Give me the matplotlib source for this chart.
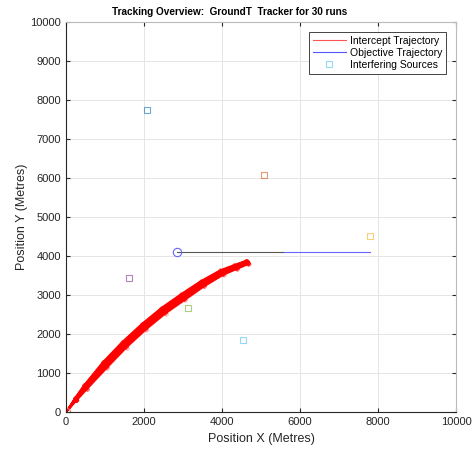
import matplotlib
matplotlib.use("Agg")
import matplotlib.pyplot as plt
from matplotlib.lines import Line2D

plt.rcParams["font.family"] = ["Liberation Sans", "DejaVu Sans"]

# mean intercept path (metres)
path_x = [0, 250, 500, 1000, 1500, 2000, 2500, 3000, 3500, 4000, 4350, 4650]
path_y = [0, 330, 640, 1210, 1730, 2190, 2600, 2950, 3290, 3580, 3720, 3840]
# how far runs stray from the mean path at each point
path_taper = [0, 0.4, 0.7, 1.0, 1.0, 1.0, 1.0, 1.0, 0.9, 0.8, 0.7, 0.6]

# per-run sideways wobble of the 30 runs (metres)
run_spread = [-90, -75, -60, -55, -45, -40, -30, -25, -20, -15,
              -10, -5, 0, 5, 10, 15, 20, 25, 30, 35,
              40, 45, 50, 55, 60, 65, 70, 80, 85, 95]

# objective track
obj_start = (2850, 4100)
obj_black_x = [2850, 5600]
obj_blue_x = [5600, 7800]
obj_y = 4100

# interfering sources
src_x = [2070, 5070, 7800, 1610, 3130, 4540]
src_y = [7740, 6070, 4520, 3440, 2660, 1850]
src_colors = ["#0072BD", "#D95319", "#EDB120", "#7E2F8E", "#77AC30", "#4DBEEE"]

fig = plt.figure(figsize=(4.75, 4.5), dpi=100)
ax = fig.add_axes([0.139, 0.084, 0.821, 0.867])

for k, d in enumerate(run_spread):
    xs = [x - d * 0.6 * t for x, t in zip(path_x, path_taper)]
    ys = [y + d * 0.8 * t for y, t in zip(path_y, path_taper)]
    ax.plot(xs, ys, color="red", lw=1.2, alpha=0.85)
    ax.plot(xs[1:], ys[1:], "o", color="red", ms=2.5, mfc="none",
            mew=0.3, alpha=0.6)

ax.plot([0], [0], "o", color="#ff6666", mfc="none", ms=6, mew=0.8)
ax.plot(obj_black_x, [obj_y, obj_y], color="#555555", lw=0.8)
ax.plot(obj_blue_x, [obj_y, obj_y], color="#6666ff", lw=0.8)
ax.plot([obj_start[0]], [obj_start[1]], "o", color="#6666ff", mfc="none",
        ms=6, mew=0.8)

for x, y, c in zip(src_x, src_y, src_colors):
    ax.plot([x], [y], "s", color=c, mfc="none", ms=5, mew=0.8, alpha=0.6)

ax.set_xlim(0, 10000)
ax.set_ylim(0, 10000)
ax.set_xticks(range(0, 10001, 2000))
ax.set_yticks(range(0, 10001, 1000))
ax.grid(True, color="#e5e5e5", lw=0.7)
ax.set_axisbelow(True)
ax.tick_params(direction="in", labelsize=8, length=3, color="#262626",
               top=True, right=True, labelcolor="#262626")
for s in ["left", "bottom"]:
    ax.spines[s].set_color("#262626")
for s in ["top", "right"]:
    ax.spines[s].set_color("#bbbbbb")

ax.set_xlabel("Position X (Metres)", fontsize=9, color="#262626", labelpad=4)
ax.set_ylabel("Position Y (Metres)", fontsize=9, color="#262626", labelpad=2)
ax.set_title("Tracking Overview:  GroundT  Tracker for 30 runs",
             fontsize=7.2, fontweight="bold", pad=5, x=0.42)

handles = [
    Line2D([], [], color="#ff5555", lw=0.8),
    Line2D([], [], color="#5555ff", lw=0.8),
    Line2D([], [], color="#4DBEEE", ls="none", marker="s", mfc="none",
           ms=5, mew=0.8, alpha=0.6),
]
leg = ax.legend(handles, ["Intercept Trajectory", "Objective Trajectory",
                          "Interfering Sources"],
                loc="upper right", fontsize=7.5, fancybox=False,
                edgecolor="#262626", framealpha=1, borderpad=0.35,
                handlelength=3.15, handletextpad=0.4, labelspacing=0.2,
                borderaxespad=0, bbox_to_anchor=(0.9736, 0.974))
leg.get_frame().set_linewidth(0.6)

fig.savefig("out.png", dpi=100)
